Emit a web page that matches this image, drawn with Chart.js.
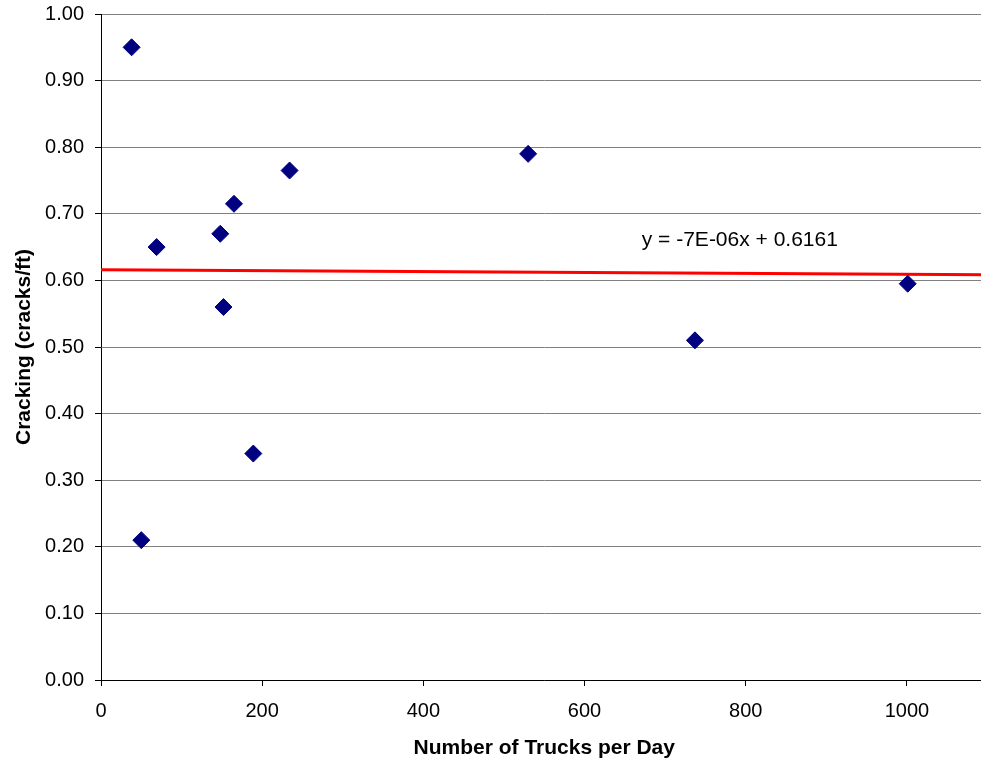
<!DOCTYPE html>
<html>
<head>
<meta charset="utf-8">
<script src="https://cdn.jsdelivr.net/npm/chart.js"></script>
<style>
  html, body { margin: 0; padding: 0; background: #fff; overflow: hidden; }
  canvas { display: block; }
</style>
</head>
<body>
<canvas id="myChart" width="997" height="763"></canvas>
<script>
// trucks per day vs. cracking
const trucksPerDay = [38, 50, 69, 148, 152, 165, 189, 234, 530, 737, 1001];
const crackingRate = [0.95, 0.21, 0.65, 0.67, 0.56, 0.715, 0.34, 0.765, 0.79, 0.51, 0.595];

// linear trendline y = slope * x + intercept
const trendSlope = -7e-6;
const trendIntercept = 0.6161;
const trendLabel = 'y = -7E-06x + 0.6161';
const trendLabelAt = { x: 671, y: 0.661 };

const xTickStep = 200;
const yTickStep = 0.1;

const points = trucksPerDay.map((x, i) => ({ x: x, y: crackingRate[i] }));
const trendPoints = [0, 1100].map(x => ({ x: x, y: trendSlope * x + trendIntercept }));

const font = 'Liberation Sans, Arial, sans-serif';

const trendText = {
    id: 'trendText',
    afterDatasetsDraw(chart) {
        const { ctx, scales } = chart;
        ctx.save();
        ctx.font = '21px ' + font;
        ctx.fillStyle = '#000';
        ctx.textAlign = 'left';
        ctx.textBaseline = 'middle';
        ctx.fillText(trendLabel, scales.x.getPixelForValue(trendLabelAt.x), scales.y.getPixelForValue(trendLabelAt.y));
        ctx.restore();
    }
};

const ctx = document.getElementById('myChart').getContext('2d');
const myChart = new Chart(ctx, {
    type: 'scatter',
    data: {
        datasets: [{
            data: points,
            pointStyle: 'rectRot',
            pointRadius: 8.5,
            pointHoverRadius: 8.5,
            backgroundColor: '#000080',
            borderColor: '#000080',
            borderWidth: 1
        }, {
            type: 'line',
            data: trendPoints,
            borderColor: '#ff0000',
            borderWidth: 3,
            pointRadius: 0,
            fill: false
        }]
    },
    options: {
        responsive: false,
        animation: false,
        layout: { padding: { left: 0, top: 14, right: 3, bottom: 0 } },
        plugins: { legend: { display: false }, tooltip: { enabled: false } },
        scales: {
            x: {
                type: 'linear',
                min: 0,
                max: 1100,
                afterFit(scale) { scale.height = 83; },
                afterBuildTicks(scale) {
                    scale.ticks = scale.ticks.filter(t => t.value % xTickStep === 0);
                },
                border: { color: '#000', width: 1 },
                grid: { drawOnChartArea: false, drawTicks: true, tickLength: 6, tickColor: '#000' },
                ticks: {
                    stepSize: xTickStep,
                    color: '#000',
                    padding: 13,
                    maxRotation: 0,
                    font: { family: font, size: 20 },
                    callback: v => String(v)
                },
                title: {
                    display: true,
                    text: 'Number of Trucks per Day',
                    color: '#000',
                    padding: { top: 0, bottom: 2 },
                    font: { family: font, size: 21, weight: 'bold' }
                }
            },
            y: {
                min: 0,
                max: 1,
                afterFit(scale) {
                    scale.width = 101;
                    scale.paddingTop = 0;
                    scale.paddingBottom = 0;
                },
                border: { color: '#000', width: 1 },
                grid: { color: '#808080', lineWidth: 1, tickLength: 6, tickColor: '#000' },
                ticks: {
                    stepSize: yTickStep,
                    color: '#000',
                    padding: 11,
                    font: { family: font, size: 20 },
                    callback: v => v.toFixed(2)
                },
                title: {
                    display: true,
                    text: 'Cracking (cracks/ft)',
                    color: '#000',
                    padding: { top: 12, bottom: 0 },
                    font: { family: font, size: 21, weight: 'bold' }
                }
            }
        }
    },
    plugins: [trendText]
});
</script>
</body>
</html>
